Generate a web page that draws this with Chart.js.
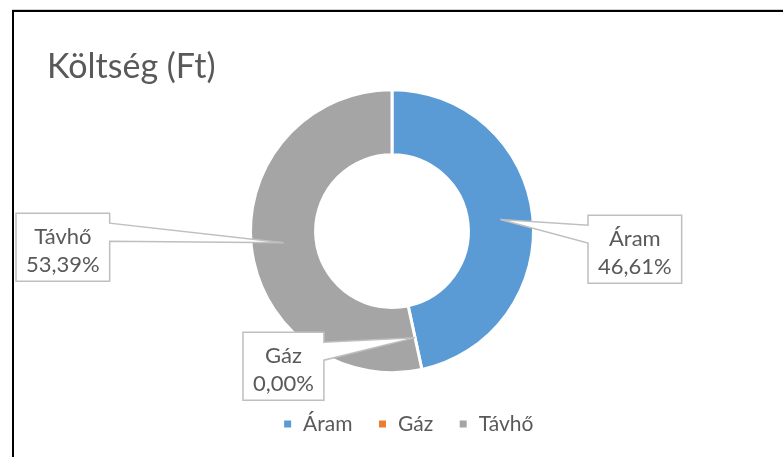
<!DOCTYPE html>
<html>
<head>
<meta charset="utf-8">
<script src="https://cdn.jsdelivr.net/npm/chart.js@4.4.1/dist/chart.umd.min.js"></script>
<style>
  html, body { margin: 0; padding: 0; background: #fff; overflow: hidden; }
  #frame {
    position: absolute; left: 12px; top: 10px; width: 800px; height: 470px;
    border-top: 2px solid #000; border-left: 2px solid #000;
    box-shadow: 0 -1px 0 #d0d0d0;
  }
  #wrap { position: absolute; left: 0; top: 0; width: 783px; height: 457px; }
</style>
</head>
<body>
<div id="frame"></div>
<div id="wrap"><canvas id="costChart"></canvas></div>
<script>
const categories = ['Áram', 'Gáz', 'Távhő'];
const shares = [46.61, 0.00, 53.39];
const sliceColors = ['#5b9bd5', '#ed7d31', '#a5a5a5'];

const textColor = '#595959';
const fontFamily = 'Lato, "Open Sans", sans-serif';

// callout boxes with pointer, like the excel data labels
const calloutPlugin = {
  id: 'callouts',
  afterDatasetsDraw(chart, args, opts) {
    const ctx = chart.ctx;
    const meta = chart.getDatasetMeta(0);
    const values = chart.data.datasets[0].data;
    const total = values.reduce((a, b) => a + b, 0);
    ctx.save();
    ctx.font = opts.size + 'px ' + fontFamily;
    ctx.textAlign = 'center';
    ctx.textBaseline = 'alphabetic';
    meta.data.forEach((arc, i) => {
      const place = opts.boxes[i];
      const tip = arc.tooltipPosition();
      const line1 = chart.data.labels[i];
      const line2 = (values[i] / total * 100).toFixed(2).replace('.', ',') + '%';
      const w = Math.max(ctx.measureText(line1).width, ctx.measureText(line2).width) + 2 * opts.padX;
      const h = opts.height;
      const x = arc.x + place.dx;
      const y = arc.y + place.dy;
      const b1 = y + opts.base[0], b2 = y + opts.base[1];

      ctx.beginPath();
      if (tip.x < x) {
        ctx.moveTo(x, y);
        ctx.lineTo(x + w, y);
        ctx.lineTo(x + w, y + h);
        ctx.lineTo(x, y + h);
        ctx.lineTo(x, b2);
        ctx.lineTo(tip.x, tip.y);
        ctx.lineTo(x, b1);
      } else {
        ctx.moveTo(x, y);
        ctx.lineTo(x + w, y);
        ctx.lineTo(x + w, b1);
        ctx.lineTo(tip.x, tip.y);
        ctx.lineTo(x + w, b2);
        ctx.lineTo(x + w, y + h);
        ctx.lineTo(x, y + h);
      }
      ctx.closePath();
      ctx.fillStyle = '#fff';
      ctx.fill();
      ctx.strokeStyle = '#bfbfbf';
      ctx.lineWidth = 1.5;
      ctx.stroke();

      ctx.fillStyle = textColor;
      ctx.fillText(line1, x + w / 2, y + opts.lines[0]);
      ctx.fillText(line2, x + w / 2, y + opts.lines[1]);
    });
    ctx.restore();
  }
};

// excel centres the legend a little to the right of the plot
const legendNudge = {
  id: 'legendNudge',
  afterLayout(chart, args, opts) {
    chart.legend.left += opts.dx;
    chart.legend.right += opts.dx;
  }
};

function drawChart() {
  new Chart(document.getElementById('costChart'), {
    type: 'doughnut',
    data: {
      labels: categories,
      datasets: [{
        data: shares,
        backgroundColor: sliceColors,
        borderColor: '#fff',
        borderWidth: 3
      }]
    },
    options: {
      responsive: true,
      maintainAspectRatio: false,
      animation: false,
      radius: 141.5,
      cutout: '54%',
      layout: {
        padding: { left: 47, right: 46, top: 0, bottom: 12.5 }
      },
      plugins: {
        title: {
          display: true,
          text: 'Költség (Ft)',
          align: 'start',
          color: textColor,
          font: { family: fontFamily, size: 34, weight: 'normal', lineHeight: 1.2 },
          padding: { top: 47, bottom: -14 }
        },
        legend: {
          position: 'bottom',
          labels: {
            color: textColor,
            font: { family: fontFamily, size: 21 },
            boxWidth: 10,
            boxHeight: 10,
            padding: 25
          }
        },
        tooltip: { enabled: false },
        callouts: {
          size: 22,
          padX: 10,
          height: 68,
          base: [10, 28],
          lines: [31, 59],
          boxes: [
            { dx: 196, dy: -16 },
            { dx: -149, dy: 101 },
            { dx: -376, dy: -18 }
          ]
        },
        legendNudge: { dx: 16 }
      }
    },
    plugins: [calloutPlugin, legendNudge]
  });
}

document.fonts.load('21px Lato').then(drawChart, drawChart);
</script>
</body>
</html>
